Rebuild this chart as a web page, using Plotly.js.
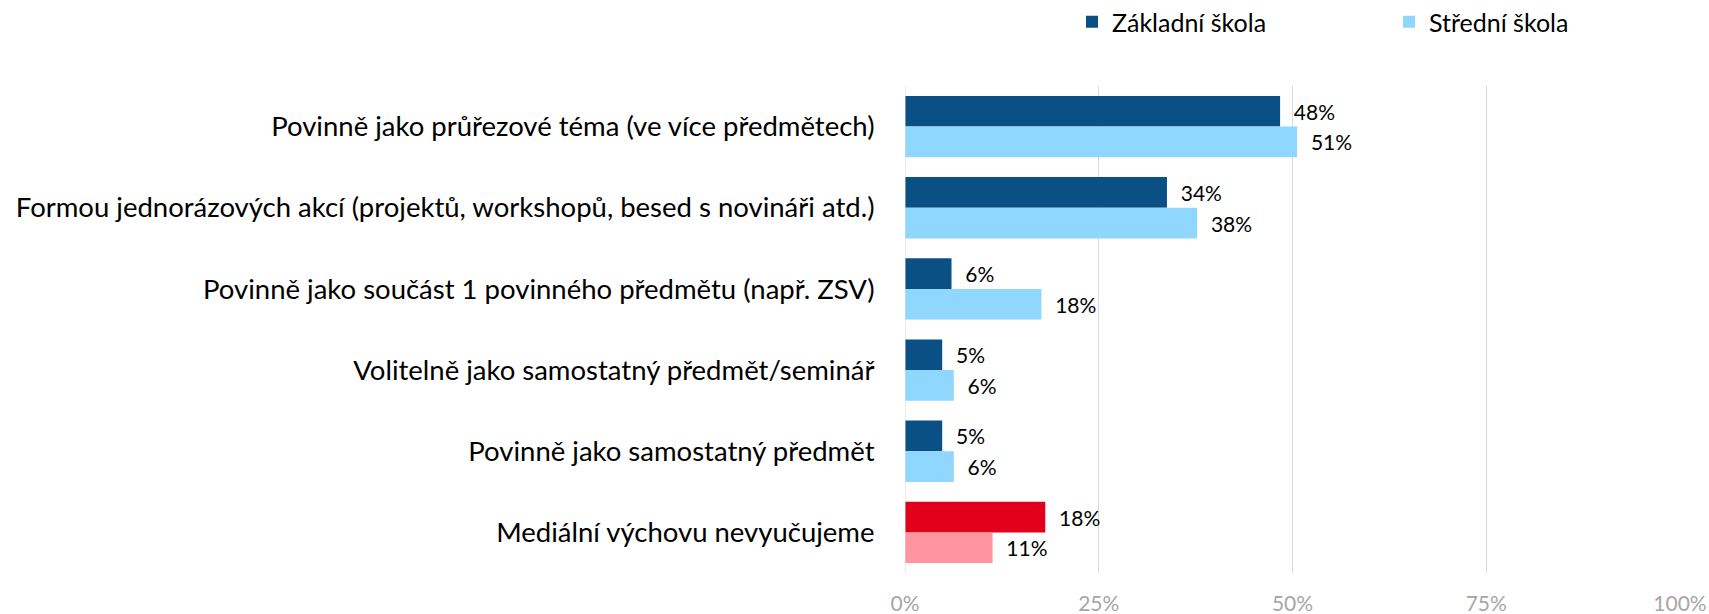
<!DOCTYPE html>
<html>
<head>
<meta charset="utf-8">
<script src="https://cdn.plot.ly/plotly-3.0.1.min.js"></script>
<style>html,body{margin:0;padding:0;background:#fff;}#chart{width:1709px;height:614px;}</style>
</head>
<body>
<div id="chart"></div>
<script>
const categories = [
  "Povinně jako průřezové téma (ve více předmětech)",
  "Formou jednorázových akcí (projektů, workshopů, besed s novináři atd.)",
  "Povinně jako součást 1 povinného předmětu (např. ZSV)",
  "Volitelně jako samostatný předmět/seminář",
  "Povinně jako samostatný předmět",
  "Mediální výchovu nevyučujeme"
];
const seriesNames = ["Základní škola", "Střední škola"];
const zakladni = [48.4, 33.8, 6.0, 4.8, 4.8, 18.1];
const stredni = [50.6, 37.7, 17.6, 6.3, 6.3, 11.3];
const zakladniColors = ["#0B5084","#0B5084","#0B5084","#0B5084","#0B5084","#E2001A"];
const stredniColors = ["#8FD7FE","#8FD7FE","#8FD7FE","#8FD7FE","#8FD7FE","#FF95A0"];
const xTickVals = [0, 25, 50, 75, 100];
const xTickText = ["0%", "25%", "50%", "75%", "100%"];

const FONT = "Lato, 'Open Sans', sans-serif";
const pad = "\u00a0\u00a0";
function labels(arr){ return arr.map(v => pad + Math.round(v) + "%"); }

const traces = [
  {type:"bar", orientation:"h", name:seriesNames[0], y:categories, x:zakladni,
   marker:{color:zakladniColors}, text:labels(zakladni), textposition:"outside",
   textfont:{family:FONT, size:21, color:"#000"}, cliponaxis:false, hoverinfo:"x+y"},
  {type:"bar", orientation:"h", name:seriesNames[1], y:categories, x:stredni,
   marker:{color:stredniColors}, text:labels(stredni), textposition:"outside",
   textfont:{family:FONT, size:21, color:"#000"}, cliponaxis:false, hoverinfo:"x+y"}
];

const layout = {
  width:1709, height:614,
  margin:{l:905, r:29, t:86, b:41},
  paper_bgcolor:"#fff", plot_bgcolor:"#fff",
  font:{family:FONT, color:"#000"},
  barmode:"group", bargap:0.245, bargroupgap:0,
  showlegend:true,
  legend:{orientation:"h", xref:"container", yref:"container", x:1072/1709, xanchor:"left",
          y:1 - 22/614, yanchor:"middle",
          font:{family:FONT, size:25, color:"#000"}, entrywidth:272, entrywidthmode:"pixels",
          traceorder:"normal", bgcolor:"rgba(0,0,0,0)"},
  xaxis:{range:[0,100], tickvals:xTickVals, ticktext:xTickText, showgrid:true,
         gridcolor:"#D9D9D9", gridwidth:1, zeroline:false, showline:false,
         ticks:"outside", ticklen:12, tickcolor:"rgba(0,0,0,0)", automargin:false,
         tickfont:{family:FONT, size:21, color:"#A6A6A6"}, fixedrange:true},
  yaxis:{autorange:"reversed", ticks:"outside", ticklen:24, tickcolor:"rgba(0,0,0,0)",
         tickfont:{family:FONT, size:27.5, color:"#000"}, showline:false, showgrid:false,
         automargin:false, fixedrange:true},
  shapes:[{type:"line", xref:"x", yref:"paper", x0:0, x1:0, y0:0, y1:1,
           line:{color:"#D9D9D9", width:1}}]
};

Plotly.newPlot("chart", traces, layout, {displayModeBar:false, staticPlot:true});
</script>
</body>
</html>
